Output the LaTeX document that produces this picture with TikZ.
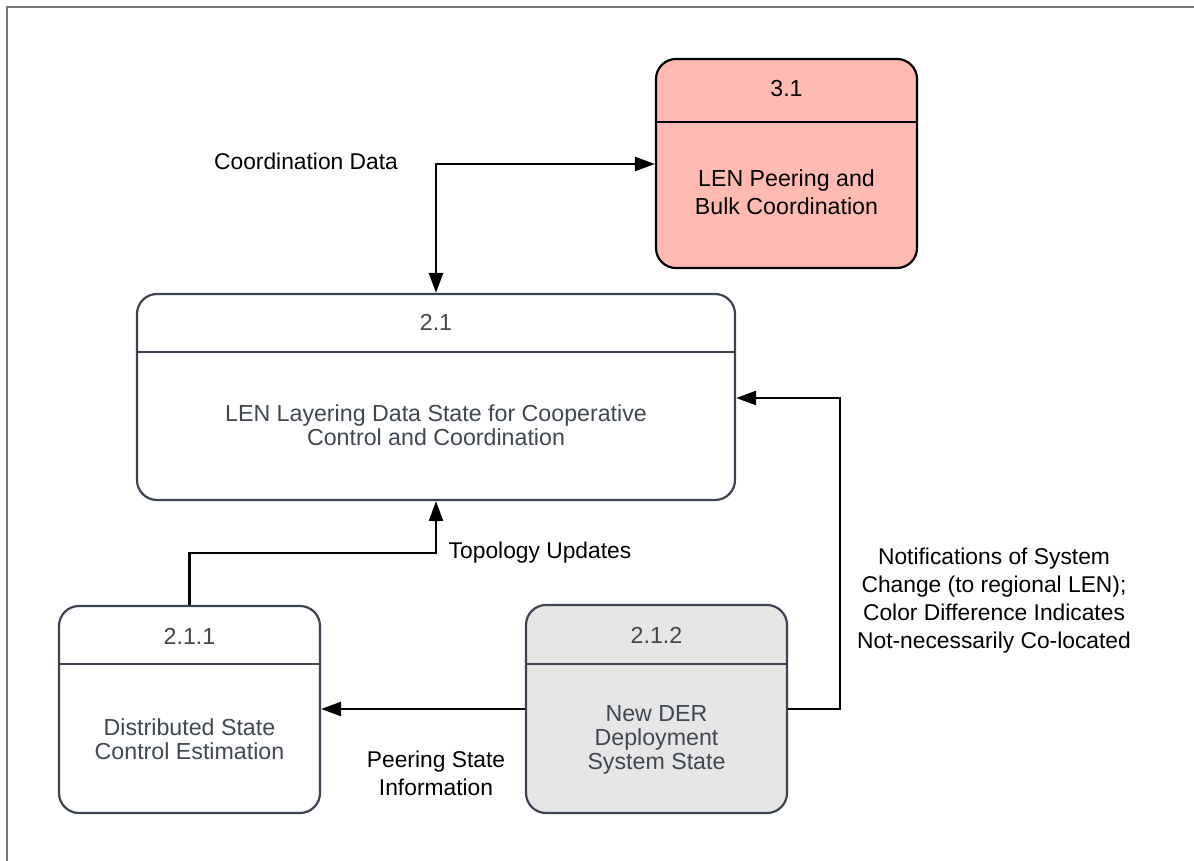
\documentclass[tikz,border=0pt]{standalone}
\usepackage{fontspec}
\setmainfont{Liberation Sans}
\usetikzlibrary{arrows.meta,calc}
\definecolor{slate}{HTML}{3B4450}
\definecolor{slatetext}{HTML}{3F4751}
\definecolor{salmon}{HTML}{FFBBB2}
\definecolor{lightgray}{HTML}{E6E6E6}
\definecolor{framegray}{HTML}{777777}
\tikzset{
  procbox/.style={draw=slate, line width=2.2pt, rounded corners=20pt, inner sep=0pt},
  hdrline/.style={draw=slate, line width=2.2pt},
  boxtext/.style={text=slatetext, align=center, font=\fontsize{23.2}{23.8}\selectfont},
  lbltext/.style={text=black, align=center, font=\fontsize{22.8}{27.8}\selectfont},
  conn/.style={draw=black, line width=2.5pt, -{Triangle[length=20pt,width=14pt]}},
  dconn/.style={draw=black, line width=2.5pt, {Triangle[length=20pt,width=14pt]}-{Triangle[length=20pt,width=14pt]}}
}
\begin{document}
\begin{tikzpicture}[x=1pt,y=-1pt]
\useasboundingbox (0,0) rectangle (1194,861);
% outer frame (top and left edges visible)
\draw[framegray, line width=2.5pt] (7,861) -- (7,7) -- (1194,7);

% box 3.1
\node[procbox, draw=black, fill=salmon, minimum width=261pt, minimum height=209pt] (b31) at (786.5,163.5) {};
\draw[hdrline, draw=black] (b31.west |- 0,122) -- (b31.east |- 0,122);
\node[boxtext, text=black] (t31n) at (786.5,89) {3.1};
\node[boxtext, text=black, font=\fontsize{23.2}{27.5}\selectfont] (t31b) at (786.5,192) {LEN Peering and\\Bulk Coordination};

% box 2.1
\node[procbox, fill=white, minimum width=598pt, minimum height=206pt] (b21) at (436,397) {};
\draw[hdrline] (b21.west |- 0,352) -- (b21.east |- 0,352);
\node[boxtext] (t21n) at (436,322) {2.1};
\node[boxtext] (t21b) at (436,425) {LEN Layering Data State for Cooperative\\Control and Coordination};

% box 2.1.1
\node[procbox, fill=white, minimum width=261pt, minimum height=207pt] (b211) at (189.5,709.5) {};
\draw[hdrline] (b211.west |- 0,664) -- (b211.east |- 0,664);
\node[boxtext] (t211n) at (189.5,636) {2.1.1};
\node[boxtext] (t211b) at (189.5,739) {Distributed State\\Control Estimation};

% box 2.1.2
\node[procbox, fill=lightgray, minimum width=261pt, minimum height=208pt] (b212) at (656.5,709) {};
\draw[hdrline] (b212.west |- 0,664) -- (b212.east |- 0,664);
\node[boxtext] (t212n) at (656.5,635) {2.1.2};
\node[boxtext] (t212b) at (656.5,740) {New DER\\Deployment\\System State};

% bend points
\coordinate (c1) at (436,164);
\coordinate (c2) at (436,553);
\coordinate (c3) at (840,398);

% connectors
\draw[dconn] (b21.north -| c1) -- (c1) -- (b31.west |- c1);
\draw[conn] (b211.north) |- (c2) -- (b21.south -| c2);
\draw[conn] (b212.east) -| (c3) -- (b21.east |- c3);
\draw[conn] (b212.west) -- (b211.east |- b212.west);

% connector labels
\node[lbltext] (l1) at (306,161) {Coordination Data};
\node[lbltext] (l2) at (540,552.5) {Topology Updates};
\node[lbltext] (l3) at (436,773.5) {Peering State\\Information};
\node[lbltext] (l4) at (994,600.5) {Notifications of System\\Change (to regional LEN);\\Color Difference Indicates\\Not-necessarily Co-located};
\end{tikzpicture}
\end{document}
